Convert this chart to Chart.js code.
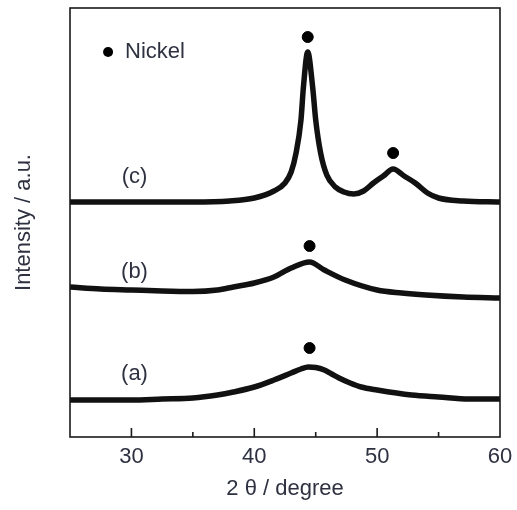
<!DOCTYPE html>
<html>
<head>
<meta charset="utf-8">
<script src="https://cdn.jsdelivr.net/npm/chart.js@4"></script>
<style>
  body { margin: 0; background: #fff; }
  #wrap { width: 517px; height: 510px; position: relative; }
</style>
</head>
<body>
<div id="wrap"><canvas id="xrd"></canvas></div>
<script>
// XRD patterns (2 theta in degree, intensity in a.u. with offsets)
let thetaA = [25, 27.5, 30, 32.5, 35, 37, 38.3, 40, 41.6, 43, 43.8, 44.4, 45.0, 45.7, 46.3, 46.9, 47.8, 48.7, 50, 52.8, 55, 57.5, 60];
let intensA = [37, 37, 37, 38, 39, 42, 45, 50, 57, 64, 68, 70, 69.5, 67, 63, 59, 54, 50, 47, 42, 40, 38, 38];

let thetaB = [25, 27.5, 30, 32.5, 35, 37, 38.3, 40, 41.6, 43, 44.5, 45.7, 47.4, 50, 52, 54, 57, 60];
let intensB = [150, 148, 147, 146, 145.5, 147, 150, 154, 160, 169, 175, 167, 157, 147, 144, 142, 140, 139];

let thetaC = [25, 30, 35, 38, 40, 41.6, 42.5, 43.0, 43.4, 43.8, 44.0, 44.35, 44.75, 45.0, 45.4, 45.9, 46.6, 47.3, 48.1, 48.9, 49.7, 50.5, 51.3, 52.2, 53.1, 54.1, 55, 57, 60];
let intensC = [235, 235, 235, 236, 239, 246, 254, 265, 284, 317, 350, 385, 350, 317, 284, 262, 250, 245, 243, 246, 254, 261, 268, 261, 254, 244, 239, 236, 235];

// Nickel reflections (dots)
let nickelTheta = [44.35, 51.3, 44.5, 44.5];
let nickelIntens = [400, 284, 191, 89];

// sample labels
let sampleNames = ['(a)', '(b)', '(c)'];
let sampleLabelTheta = [30.25, 30.25, 30.25];
let sampleLabelIntens = [63, 165, 260];

let xTicksMajor = [30, 40, 50, 60];
let xTicksMinor = [35, 45, 55];

var textColor = '#2e3140';
var fontFam = '"Liberation Sans", Arial, sans-serif';

function toPoints(xs, ys) {
    var pts = [];
    for (var i = 0; i < xs.length; i++) {
        pts.push({x: xs[i], y: ys[i]});
    }
    return pts;
}

function traceSet(xs, ys) {
    return {
        type: 'line',
        data: toPoints(xs, ys),
        borderColor: '#111',
        borderWidth: 5.5,
        pointRadius: 0,
        cubicInterpolationMode: 'monotone',
        fill: false
    };
}

// frame + inward ticks
var framePlugin = {
    id: 'frame',
    afterDraw: function (chart) {
        var ctx = chart.ctx;
        var a = chart.chartArea;
        var xs = chart.scales.x;
        ctx.save();
        ctx.strokeStyle = '#1a1a1a';
        ctx.lineWidth = 1.6;
        ctx.strokeRect(a.left, a.top, a.right - a.left, a.bottom - a.top);
        ctx.beginPath();
        xTicksMajor.forEach(function (v) {
            if (v >= 60) return;
            var px = xs.getPixelForValue(v);
            ctx.moveTo(px, a.bottom);
            ctx.lineTo(px, a.bottom - 9);
        });
        xTicksMinor.forEach(function (v) {
            var px = xs.getPixelForValue(v);
            ctx.moveTo(px, a.bottom);
            ctx.lineTo(px, a.bottom - 5);
        });
        ctx.stroke();
        ctx.restore();
    }
};

// legend "Nickel" and sample labels
var labelPlugin = {
    id: 'labels',
    afterDatasetsDraw: function (chart) {
        var ctx = chart.ctx;
        var xs = chart.scales.x, ys = chart.scales.y;
        ctx.save();
        ctx.font = '22px ' + fontFam;
        ctx.fillStyle = textColor;
        ctx.textAlign = 'center';
        ctx.textBaseline = 'middle';
        for (var i = 0; i < sampleNames.length; i++) {
            ctx.fillText(sampleNames[i], xs.getPixelForValue(sampleLabelTheta[i]), ys.getPixelForValue(sampleLabelIntens[i]));
        }
        // legend
        var lx = xs.getPixelForValue(28.1), ly = ys.getPixelForValue(385);
        ctx.fillStyle = '#000';
        ctx.beginPath();
        ctx.arc(lx, ly, 5, 0, Math.PI * 2);
        ctx.fill();
        ctx.fillStyle = textColor;
        ctx.textAlign = 'left';
        ctx.fillText('Nickel', lx + 17, ly);
        ctx.restore();
    }
};

new Chart(document.getElementById('xrd'), {
    type: 'scatter',
    data: {
        datasets: [
            traceSet(thetaA, intensA),
            traceSet(thetaB, intensB),
            traceSet(thetaC, intensC),
            {
                type: 'scatter',
                data: toPoints(nickelTheta, nickelIntens),
                backgroundColor: '#000',
                borderColor: '#000',
                pointRadius: 5.5,
                pointHoverRadius: 5.5
            }
        ]
    },
    options: {
        responsive: true,
        maintainAspectRatio: false,
        animation: false,
        layout: { padding: { top: 8, right: 17, left: 0, bottom: 0 } },
        plugins: { legend: { display: false }, tooltip: { enabled: false } },
        scales: {
            x: {
                type: 'linear',
                min: 25,
                max: 60,
                grid: { display: false, drawTicks: false },
                border: { display: false },
                ticks: {
                    stepSize: 5,
                    padding: 7,
                    color: textColor,
                    font: { size: 22, family: fontFam },
                    callback: function (v) { return v % 10 === 0 ? v : ''; }
                },
                title: {
                    display: true,
                    text: '2 θ / degree',
                    color: textColor,
                    font: { size: 22, family: fontFam },
                    padding: { top: 0, bottom: 8 }
                },
                afterFit: function (s) { s.height = 73; s.paddingLeft = 0; s.paddingRight = 0; }
            },
            y: {
                min: 0,
                max: 429,
                grid: { display: false, drawTicks: false },
                border: { display: false },
                ticks: { display: false },
                title: {
                    display: true,
                    text: 'Intensity / a.u.',
                    color: textColor,
                    font: { size: 22, family: fontFam },
                    padding: { top: 11, bottom: 0 }
                },
                afterFit: function (s) { s.width = 70; s.paddingTop = 0; s.paddingBottom = 0; }
            }
        }
    },
    plugins: [framePlugin, labelPlugin]
});
</script>
</body>
</html>
